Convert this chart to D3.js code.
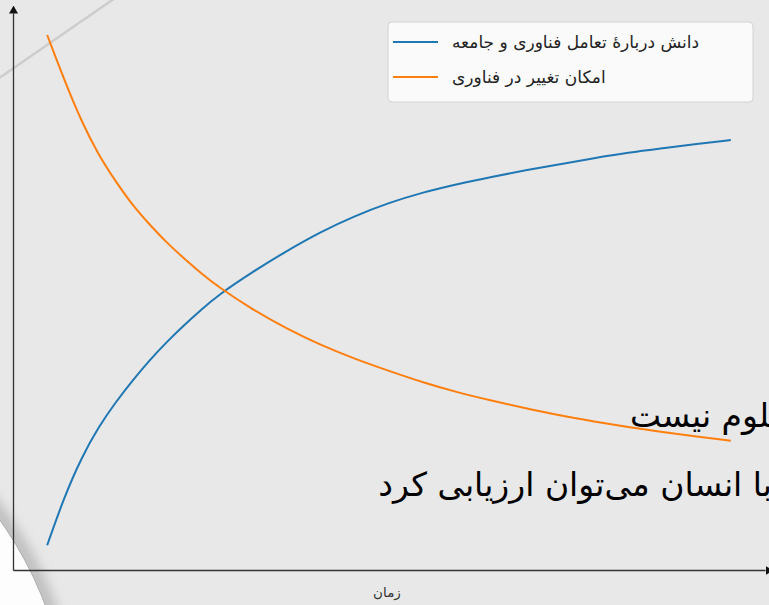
<!DOCTYPE html>
<meta charset="utf-8" />
<style>
  body {
    margin: 0;
    background: #e8e8e8;
  }

  svg {
    display: block;
    font-family: 'DejaVu Sans', sans-serif;
  }

  .series {
    fill: none;
    stroke-width: 2;
  }

  .axis path {
    stroke: #333;
    stroke-width: 1.3;
  }
</style>
<svg width="769" height="605"></svg>
<script src="https://d3js.org/d3.v7.min.js"></script>
<script>
  // values (time in arbitrary units, level 0-100)
  const time = [0, 0.5, 1, 1.5, 2, 2.5, 3, 3.5, 4, 4.5, 5, 6, 7, 8, 9, 10, 11, 12, 13, 14, 15, 16, 17, 18, 19, 20];
  const knowledge = [4.5, 13.3, 20.4, 26.0, 30.5, 34.5, 38.2, 41.5, 44.5, 47.3, 50.0, 54.2, 58.0, 61.5, 64.4, 66.8, 68.7, 70.2, 71.5, 72.7, 73.8, 74.9, 75.9, 76.7, 77.5, 78.2];
  const changeability = [97.3, 89.1, 81.6, 75.5, 70.7, 66.3, 62.8, 59.5, 56.7, 54.0, 51.5, 47.4, 43.9, 40.9, 38.4, 36.2, 34.1, 32.3, 30.8, 29.4, 28.1, 27.0, 26.0, 25.1, 24.3, 23.5];
  const seriesNames = ['دانش دربارهٔ تعامل فناوری و جامعه', 'امکان تغییر در فناوری'];
  const seriesColors = ['#1f77b4', '#ff7f0e'];
  const xLabel = 'زمان';
  const overlayText = ['\u200dلوم نیست', 'با انسان می‌توان ارزیابی کرد'];

  const svg = d3.select('svg');
  const width = +svg.attr('width');
  const height = +svg.attr('height');

  const x = d3.scaleLinear().domain([-1, 21]).range([13, 765]);
  const y = d3.scaleLinear().domain([0, 101.3]).range([570, 13]);

  const defs = svg.append('defs');
  defs.append('marker')
    .attr('id', 'arrow')
    .attr('markerUnits', 'userSpaceOnUse')
    .attr('viewBox', '0 -5 8 10')
    .attr('refX', 0)
    .attr('refY', 0)
    .attr('markerWidth', 8)
    .attr('markerHeight', 10)
    .attr('orient', 'auto')
    .append('path')
    .attr('d', 'M0,-4.5L8,0L0,4.5Z')
    .attr('fill', '#111');
  defs.append('filter')
    .attr('id', 'soft')
    .attr('x', '-20%').attr('y', '-20%')
    .attr('width', '140%').attr('height', '140%')
    .append('feGaussianBlur')
    .attr('stdDeviation', 6);

  // slide decoration behind the chart
  svg.append('rect')
    .attr('width', width)
    .attr('height', height)
    .attr('fill', '#e8e8e8');
  svg.append('line')
    .attr('x1', -5).attr('y1', 81)
    .attr('x2', 118).attr('y2', -4)
    .attr('stroke', '#cdcdcd')
    .attr('stroke-width', 2.5);
  svg.append('circle')
    .attr('cx', -310).attr('cy', 740).attr('r', 382)
    .attr('fill', 'none')
    .attr('stroke', '#9a9a9a')
    .attr('stroke-width', 16)
    .attr('opacity', 0.55)
    .attr('filter', 'url(#soft)');
  svg.append('circle')
    .attr('cx', -310).attr('cy', 740).attr('r', 380)
    .attr('fill', '#fdfdfd')
    .attr('stroke', '#a0a0a0')
    .attr('stroke-width', 0.8);

  // axes without ticks, arrow heads at the ends
  svg.append('g')
    .attr('class', 'axis')
    .attr('transform', 'translate(0,570)')
    .call(d3.axisBottom(x).tickValues([]).tickSizeOuter(0))
    .select('.domain')
    .attr('marker-end', 'url(#arrow)');
  svg.append('g')
    .attr('class', 'axis')
    .attr('transform', 'translate(13,0)')
    .call(d3.axisLeft(y).tickValues([]).tickSizeOuter(0))
    .select('.domain')
    .attr('marker-end', 'url(#arrow)');

  svg.append('text')
    .attr('x', 387)
    .attr('y', 597)
    .attr('text-anchor', 'middle')
    .attr('font-size', 13.5)
    .attr('fill', '#333')
    .text(xLabel);

  const line = d3.line()
    .x(function (d, i) { return x(time[i]); })
    .y(function (d) { return y(d); })
    .curve(d3.curveBasis);

  svg.selectAll('.series')
    .data([knowledge, changeability])
    .join('path')
    .attr('class', 'series')
    .attr('stroke', function (d, i) { return seriesColors[i]; })
    .attr('d', line);

  // legend
  const legend = svg.append('g').attr('transform', 'translate(388,22)');
  legend.append('rect')
    .attr('width', 365)
    .attr('height', 80)
    .attr('rx', 4)
    .attr('fill', '#fafafa')
    .attr('stroke', '#d2d2d2');
  const item = legend.selectAll('.item')
    .data(seriesNames)
    .join('g')
    .attr('class', 'item')
    .attr('transform', function (d, i) { return 'translate(0,' + (20 + i * 35) + ')'; });
  item.append('line')
    .attr('x1', 5).attr('x2', 50)
    .attr('stroke', function (d, i) { return seriesColors[i]; })
    .attr('stroke-width', 2);
  item.append('text')
    .attr('x', 64)
    .attr('y', 6)
    .attr('direction', 'rtl')
    .attr('text-anchor', 'end')
    .attr('font-size', 17)
    .attr('fill', '#222')
    .text(function (d) { return d; });

  // slide text overlapping the chart, cut off at the right edge
  svg.selectAll('.overlay')
    .data(overlayText)
    .join('text')
    .attr('class', 'overlay')
    .attr('x', function (d, i) { return i ? 772 : 770; })
    .attr('y', function (d, i) { return i ? 496 : 427; })
    .attr('direction', 'rtl')
    .attr('text-anchor', 'start')
    .attr('font-size', 33)
    .attr('fill', '#000')
    .text(function (d) { return d; });
</script>
</html>
